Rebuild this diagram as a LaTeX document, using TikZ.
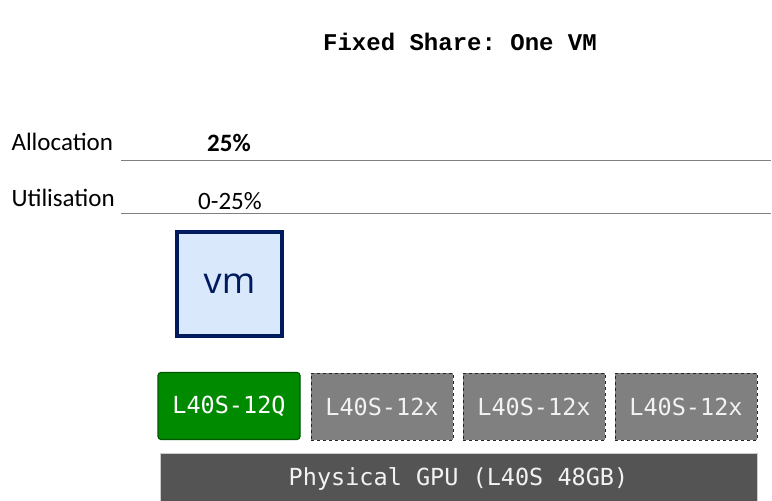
\documentclass[tikz,border=0pt]{standalone}
\usepackage{fontspec}
\setmainfont{Carlito}
\newfontfamily\titlefont{Liberation Mono}
\newfontfamily\boxfont{DejaVu Sans Mono}
\newfontfamily\vmfont{Open Sans}
\definecolor{vgpugreen}{HTML}{008A00}
\definecolor{vgpuedge}{HTML}{005700}
\definecolor{sparegray}{HTML}{808080}
\definecolor{gpugray}{HTML}{545454}
\definecolor{vmblue}{HTML}{DAE8FC}
\definecolor{vmnavy}{HTML}{001A5E}
\definecolor{rulegray}{HTML}{808080}
\tikzset{
  rowlabel/.style={anchor=west, font=\fontsize{25}{30}\selectfont},
  rowvalue/.style={font=\fontsize{25}{30}\selectfont},
  rowrule/.style={rulegray, line width=1pt},
  slice/.style={minimum width=142pt, minimum height=67pt, inner sep=0pt,
    font=\boxfont\fontsize{23.5}{28}\selectfont},
  vgpu/.style={slice, fill=vgpugreen, draw=vgpuedge, line width=1.2pt, rounded corners=3pt, text=white},
  spare/.style={slice, fill=sparegray, draw=black!85, dashed, line width=1pt, text=black!5},
}
\begin{document}
\frenchspacing
\begin{tikzpicture}[x=1pt, y=-1pt]
\useasboundingbox (0,0) rectangle (772,501);

%\draw[step=50, gray!30] (0,0) grid (772,501);

\node (title) at (460,42) {\titlefont\bfseries\fontsize{24}{28}\selectfont Fixed Share: One VM};

% rows
\node[rowlabel] (alloc) at (8,142) {Allocation};
\node[rowvalue] (allocval) at (229,143) {\bfseries 25\%};
\draw[rowrule] (121,160)--(771,160);

\node[rowlabel] (util) at (8,198) {Utilisation};
\node[rowvalue] (utilval) at (230,201) {0-25\%};
\draw[rowrule] (121,213)--(771,213);

% the vm
\node[fill=vmblue, draw=vmnavy, line width=4pt, minimum width=105pt, minimum height=104pt,
  inner sep=0pt, text=vmnavy, font=\vmfont\fontsize{36}{40}\selectfont] (vm) at (229.5,284) {vm};

% slices of the gpu
\node[vgpu] (s1) at (229,406) {L40S-12Q};
\node[spare] (s2) at (382,406.5) {L40S-12x};
\node[spare] (s3) at (534,406.5) {L40S-12x};
\node[spare] (s4) at (686,406.5) {L40S-12x};

\node[fill=gpugray, draw=black!20, line width=1pt, minimum width=597pt, minimum height=52pt, inner sep=0pt,
  text=black!5, font=\boxfont\fontsize{23.5}{28}\selectfont] (gpu) at (458.5,479) {Physical GPU (L40S 48GB)};

\end{tikzpicture}
\end{document}
